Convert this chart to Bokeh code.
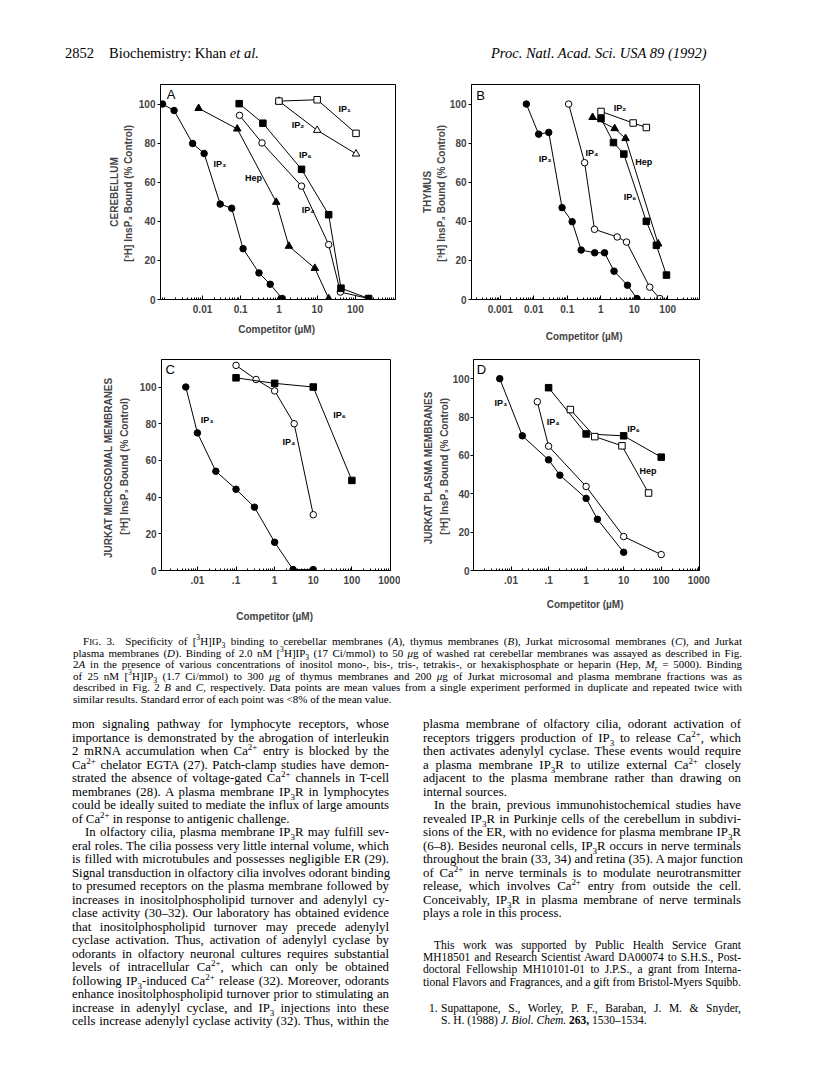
from bokeh.plotting import figure
from bokeh.models import Range1d, FixedTicker, CustomJSTickFormatter, Div
from bokeh.layouts import column, row
from bokeh.core.properties import value
from bokeh.embed import file_html
from bokeh.resources import INLINE

SANS = "Liberation Sans"
SERIF = "Liberation Serif"

# ---------------- data: panel A (cerebellum) ----------------
A_IP3_X = [0.0009, 0.0018, 0.0055, 0.011, 0.029, 0.058, 0.115, 0.30, 0.59, 1.22]
A_IP3_Y = [100, 96.7, 79.8, 74.7, 48.8, 46.7, 26, 13.6, 7.8, 0.5]
A_HEP_X = [0.0079, 0.081, 0.85, 1.82, 8.7, 20]
A_HEP_Y = [97.8, 87.3, 49.8, 27.3, 16, 0.5]
A_IP4_X = [0.093, 0.36, 3.9, 20, 40.5, 222]
A_IP4_Y = [94.2, 80.1, 58, 28.1, 3.8, 0.5]
A_IP6_X = [0.091, 0.38, 3.9, 20, 42, 222]
A_IP6_Y = [100.2, 90.2, 66.6, 43.4, 5.8, 0.5]
A_IP2_X = [1.0, 10, 104]
A_IP2_Y = [101.5, 86.6, 74.5]
A_IP1_X = [1.0, 10, 104]
A_IP1_Y = [101.5, 102.2, 85]
A_LAB_T = ["IP\u2081", "IP\u2082", "IP\u2086", "IP\u2083", "Hep", "IP\u2084"]
A_LAB_X = [36, 2.16, 3.37, 0.0195, 0.13, 3.95]
A_LAB_Y = [97.6, 89.4, 73.7, 69.5, 62.4, 45.9]
A_TICKS = [0.01, 0.1, 1, 10, 100]
A_TICK_LABELS = ["0.01", "0.1", "1", "10", "100"]

# ---------------- data: panel B (thymus) ----------------
B_IP3_X = [0.006, 0.014, 0.028, 0.070, 0.14, 0.26, 0.66, 1.3, 2.5, 6.3, 12.1]
B_IP3_Y = [100, 84.6, 85.5, 47, 39.8, 25.3, 23.9, 23.9, 14.5, 7.3, 0.5]
B_IP4_X = [0.11, 0.33, 0.65, 3.1, 5.9, 29, 58]
B_IP4_Y = [100, 70, 35.9, 32, 29.4, 6.3, 0.5]
B_IP2_X = [1.02, 9.3, 23]
B_IP2_Y = [96.2, 90.3, 88]
B_HEP_X = [0.57, 2.6, 5.5, 52]
B_HEP_Y = [93.2, 87.5, 82.4, 28.5]
B_IP6_X = [1.02, 2.4, 4.9, 23, 46, 92]
B_IP6_Y = [92.6, 80.3, 74.4, 40, 27.7, 12.5]
B_LAB_T = ["IP\u2082", "IP\u2083", "IP\u2084", "Hep", "IP\u2086"]
B_LAB_X = [2.44, 0.0141, 0.348, 10.8, 4.86]
B_LAB_Y = [98, 71.8, 75.2, 70.4, 52.5]
B_TICKS = [0.001, 0.01, 0.1, 1, 10, 100]
B_TICK_LABELS = ["0.001", "0.01", "0.1", "1", "10", "100"]

# ---------------- data: panel C (Jurkat microsomal) ----------------
C_IP3_X = [0.005, 0.01, 0.03, 0.1, 0.3, 1, 3, 10]
C_IP3_Y = [100, 75, 54.1, 44.3, 34.5, 15.4, 0.5, 0.5]
C_IP4_X = [0.1, 0.33, 1, 3.2, 10]
C_IP4_Y = [111.8, 104.1, 97.9, 80, 30.4]
C_IP6_X = [0.1, 1, 10, 100]
C_IP6_Y = [105, 102, 100, 49.1]
C_LAB_T = ["IP\u2083", "IP\u2086", "IP\u2084"]
C_LAB_X = [0.0122, 33, 1.59]
C_LAB_Y = [81.8, 84.5, 70.2]
C_TICKS = [0.01, 0.1, 1, 10, 100, 1000]
C_TICK_LABELS = [".01", ".1", "1", "10", "100", "1000"]

# ---------------- data: panel D (Jurkat plasma) ----------------
D_IP3_X = [0.005, 0.02, 0.1, 0.2, 1, 2, 10]
D_IP3_Y = [100, 70.2, 57.7, 49.7, 37.6, 26.7, 9.5]
D_IP4_X = [0.05, 0.1, 1, 10, 100]
D_IP4_Y = [88, 64.8, 43.8, 17.7, 8.3]
D_IP6_X = [0.1, 1, 10, 100]
D_IP6_Y = [95.3, 71.2, 70.2, 59.1]
D_HEP_X = [0.38, 1.7, 9, 46]
D_HEP_Y = [83.9, 69.8, 65, 40.4]
D_LAB_T = ["IP\u2083", "IP\u2084", "IP\u2086", "Hep"]
D_LAB_X = [0.0036, 0.089, 12.4, 26.3]
D_LAB_Y = [87.5, 77.5, 73.7, 52]
D_TICKS = [0.01, 0.1, 1, 10, 100, 1000]
D_TICK_LABELS = [".01", ".1", "1", "10", "100", "1000"]

Y_TICKS = [0, 20, 40, 60, 80, 100]
Y_SUB = "[\u00b3H] InsP\u2083  Bound (% Control)"


def make_panel(width, height, borders, xexp, ytop, ticks, tick_labels, ylabel,
               letter, letter_xy, x_standoff, y_standoff, y_lh, ylab_standoff=2):
    bl, br, bt, bb = borders
    p = figure(width=width, height=height, x_axis_type="log",
               x_range=Range1d(10 ** xexp[0], 10 ** xexp[1]),
               y_range=Range1d(0, ytop),
               output_backend="svg", toolbar_location=None,
               min_border_left=bl, min_border_right=br,
               min_border_top=bt, min_border_bottom=bb)
    p.xgrid.visible = False
    p.ygrid.visible = False
    p.outline_line_color = "black"
    p.outline_line_width = 1
    p.outline_line_alpha = 1
    p.background_fill_color = "white"
    p.border_fill_color = "white"

    xa = p.xaxis[0]
    minor = []
    for d in range(-5, 4):
        for k in range(1, 10):
            v = k * 10.0 ** d
            if k == 1 and any(abs(v / t - 1) < 1e-9 for t in ticks):
                continue
            minor.append(v)
    xa.ticker = FixedTicker(ticks=ticks, minor_ticks=minor)
    xa.formatter = CustomJSTickFormatter(args=dict(tvals=ticks, tlabels=tick_labels), code="""
        for (let i = 0; i < tvals.length; i++) {
            if (Math.abs(Math.log10(tvals[i]) - Math.log10(tick)) < 1e-6) return tlabels[i];
        }
        return "";
    """)
    xa.major_tick_in = 4
    xa.major_tick_out = 0
    xa.minor_tick_in = 2
    xa.minor_tick_out = 0
    xa.major_label_standoff = 5
    xa.major_label_text_font = SANS
    xa.major_label_text_font_style = "bold"
    xa.major_label_text_font_size = "10px"
    xa.axis_label = "Competitor  (\u00b5M)"
    xa.axis_label_text_font = SANS
    xa.axis_label_text_font_style = "bold"
    xa.axis_label_text_font_size = "10px"
    xa.axis_label_standoff = x_standoff
    xa.axis_line_color = "black"

    ya = p.yaxis[0]
    ya.ticker = FixedTicker(ticks=Y_TICKS)
    ya.major_tick_in = 0
    ya.major_tick_out = 3
    ya.minor_tick_in = 0
    ya.minor_tick_out = 0
    ya.major_label_standoff = ylab_standoff
    ya.major_label_text_font = SANS
    ya.major_label_text_font_style = "bold"
    ya.major_label_text_font_size = "10px"
    ya.axis_label = ylabel
    ya.axis_label_text_font = SANS
    ya.axis_label_text_font_style = "bold"
    ya.axis_label_text_font_size = "10px"
    ya.axis_label_text_line_height = y_lh
    ya.axis_label_standoff = y_standoff
    ya.axis_line_color = "black"

    p.text(x=[letter_xy[0]], y=[letter_xy[1]], text=[letter],
           text_font=value(SANS), text_font_size="13px",
           text_align="left", text_baseline="middle", text_color="black")
    return p


def series(p, xs, ys, marker, filled):
    size = 7.5 if marker == "triangle" else 6.5
    p.line(xs, ys, line_color="black", line_width=1)
    p.scatter(xs, ys, marker=marker, size=size, line_color="black", line_width=1,
              fill_color="black" if filled else "white")


def labels(p, lx, ly, lt):
    p.text(x=lx, y=ly, text=lt, text_font=value(SANS), text_font_style="bold",
           text_font_size="9px", text_align="left", text_baseline="middle",
           text_color="black")


pA = make_panel(400, 277, (160, 5, 12, 43), (-3.1, 3.05), 110, A_TICKS, A_TICK_LABELS,
                "CEREBELLUM\n" + Y_SUB, "A", (0.00115, 105), 8, 2, 1.25)
series(pA, A_IP3_X, A_IP3_Y, "circle", True)
series(pA, A_HEP_X, A_HEP_Y, "triangle", True)
series(pA, A_IP4_X, A_IP4_Y, "circle", False)
series(pA, A_IP6_X, A_IP6_Y, "square", True)
series(pA, A_IP2_X, A_IP2_Y, "triangle", False)
series(pA, A_IP1_X, A_IP1_Y, "square", False)
labels(pA, A_LAB_X, A_LAB_Y, A_LAB_T)

pB = make_panel(400, 277, (71, 101, 14, 48), (-3.86, 2.95), 110, B_TICKS, B_TICK_LABELS,
                "THYMUS\n" + Y_SUB, "B", (0.00019, 104.6), 15, 0, 1.25)
series(pB, B_IP3_X, B_IP3_Y, "circle", True)
series(pB, B_IP4_X, B_IP4_Y, "circle", False)
series(pB, B_IP2_X, B_IP2_Y, "square", False)
series(pB, B_HEP_X, B_HEP_Y, "triangle", True)
series(pB, B_IP6_X, B_IP6_Y, "square", True)
labels(pB, B_LAB_X, B_LAB_Y, B_LAB_T)

pC = make_panel(400, 280, (161, 10, 8, 57), (-2.93, 3.0), 115, C_TICKS, C_TICK_LABELS,
                "JURKAT  MICROSOMAL  MEMBRANES\n" + Y_SUB, "C", (0.00149, 109.8), 24, 7, 1.45)
series(pC, C_IP3_X, C_IP3_Y, "circle", True)
series(pC, C_IP4_X, C_IP4_Y, "circle", False)
series(pC, C_IP6_X, C_IP6_Y, "square", True)
labels(pC, C_LAB_X, C_LAB_Y, C_LAB_T)

pD = make_panel(400, 280, (73, 101, 12, 57), (-3.0, 3.02), 110, D_TICKS, D_TICK_LABELS,
                "JURKAT  PLASMA  MEMBRANES\n" + Y_SUB, "D", (0.00122, 104.9), 12, 0, 1.45, 1)
series(pD, D_IP3_X, D_IP3_Y, "circle", True)
series(pD, D_IP4_X, D_IP4_Y, "circle", False)
series(pD, D_IP6_X, D_IP6_Y, "square", True)
series(pD, D_HEP_X, D_HEP_Y, "square", False)
labels(pD, D_LAB_X, D_LAB_Y, D_LAB_T)

# ---------------- page text ----------------
STYLE = "<style>sup,sub{font-size:70%;line-height:0;} .l{white-space:nowrap;} .j{text-align:justify;text-align-last:justify;}</style>"

header = Div(width=800, height=60, text=(
    STYLE +
    f'<div style="position:relative;width:800px;height:60px;font-family:\'{SERIF}\';font-size:14.5px;color:#000;">'
    '<span style="position:absolute;left:60px;top:38px;">2852</span>'
    '<span style="position:absolute;left:104px;top:38px;">Biochemistry: Khan <i>et al.</i></span>'
    '<span style="position:absolute;left:486px;top:38px;"><i>Proc. Natl. Acad. Sci. USA 89 (1992)</i></span>'
    '</div>'))

SUP3H = "[<sup>3</sup>H]"
IP3 = "IP<sub>3</sub>"
CA = "Ca<sup>2+</sup>"

CAPTION = [
    ("j", 10, f'F<span style="font-size:80%">IG</span>. 3.&nbsp; Specificity of {SUP3H}{IP3} binding to cerebellar membranes (<i>A</i>), thymus membranes (<i>B</i>), Jurkat microsomal membranes (<i>C</i>), and Jurkat'),
    ("j", 0, f'plasma membranes (<i>D</i>). Binding of 2.0 nM {SUP3H}{IP3} (17 Ci/mmol) to 50 <i>\u03bc</i>g of washed rat cerebellar membranes was assayed as described in Fig.'),
    ("j", 0, '2<i>A</i> in the presence of various concentrations of inositol mono-, bis-, tris-, tetrakis-, or hexakisphosphate or heparin (Hep, <i>M</i><sub>r</sub> = 5000). Binding'),
    ("j", 0, f'of 25 nM {SUP3H}{IP3} (1.7 Ci/mmol) to 300 <i>\u03bc</i>g of thymus membranes and 200 <i>\u03bc</i>g of Jurkat microsomal and plasma membrane fractions was as'),
    ("j", 0, 'described in Fig. 2 <i>B</i> and <i>C</i>, respectively. Data points are mean values from a single experiment performed in duplicate and repeated twice with'),
    ("", 0, 'similar results. Standard error of each point was &lt;8% of the mean value.'),
]

LEFT_COL = [
    ("j", 0, 'mon signaling pathway for lymphocyte receptors, whose'),
    ("j", 0, 'importance is demonstrated by the abrogation of interleukin'),
    ("j", 0, f'2 mRNA accumulation when {CA} entry is blocked by the'),
    ("j", 0, f'{CA} chelator EGTA (27). Patch-clamp studies have demon-'),
    ("j", 0, f'strated the absence of voltage-gated {CA} channels in T-cell'),
    ("j", 0, f'membranes (28). A plasma membrane {IP3}R in lymphocytes'),
    ("j", 0, 'could be ideally suited to mediate the influx of large amounts'),
    ("", 0, f'of {CA} in response to antigenic challenge.'),
    ("j", 13, f'In olfactory cilia, plasma membrane {IP3}R may fulfill sev-'),
    ("j", 0, 'eral roles. The cilia possess very little internal volume, which'),
    ("j", 0, 'is filled with microtubules and possesses negligible ER (29).'),
    ("j", 0, 'Signal transduction in olfactory cilia involves odorant binding'),
    ("j", 0, 'to presumed receptors on the plasma membrane followed by'),
    ("j", 0, 'increases in inositolphospholipid turnover and adenylyl cy-'),
    ("j", 0, 'clase activity (30\u201332). Our laboratory has obtained evidence'),
    ("j", 0, 'that inositolphospholipid turnover may precede adenylyl'),
    ("j", 0, 'cyclase activation. Thus, activation of adenylyl cyclase by'),
    ("j", 0, 'odorants in olfactory neuronal cultures requires substantial'),
    ("j", 0, f'levels of intracellular {CA}, which can only be obtained'),
    ("j", 0, f'following {IP3}-induced {CA} release (32). Moreover, odorants'),
    ("j", 0, 'enhance inositolphospholipid turnover prior to stimulating an'),
    ("j", 0, f'increase in adenylyl cyclase, and {IP3} injections into these'),
    ("j", 0, 'cells increase adenylyl cyclase activity (32). Thus, within the'),
]

RIGHT_COL = [
    ("j", 0, 'plasma membrane of olfactory cilia, odorant activation of'),
    ("j", 0, f'receptors triggers production of {IP3} to release {CA}, which'),
    ("j", 0, 'then activates adenylyl cyclase. These events would require'),
    ("j", 0, f'a plasma membrane {IP3}R to utilize external {CA} closely'),
    ("j", 0, 'adjacent to the plasma membrane rather than drawing on'),
    ("", 0, 'internal sources.'),
    ("j", 11, 'In the brain, previous immunohistochemical studies have'),
    ("j", 0, f'revealed {IP3}R in Purkinje cells of the cerebellum in subdivi-'),
    ("j", 0, f'sions of the ER, with no evidence for plasma membrane {IP3}R'),
    ("j", 0, f'(6\u20138). Besides neuronal cells, {IP3}R occurs in nerve terminals'),
    ("j", 0, 'throughout the brain (33, 34) and retina (35). A major function'),
    ("j", 0, f'of {CA} in nerve terminals is to modulate neurotransmitter'),
    ("j", 0, f'release, which involves {CA} entry from outside the cell.'),
    ("j", 0, f'Conceivably, {IP3}R in plasma membrane of nerve terminals'),
    ("", 0, 'plays a role in this process.'),
]

ACK = [
    ("j", 11, 'This work was supported by Public Health Service Grant'),
    ("j", 0, 'MH18501 and Research Scientist Award DA00074 to S.H.S., Post-'),
    ("j", 0, 'doctoral Fellowship MH10101-01 to J.P.S., a grant from Interna-'),
    ("j", 0, 'tional Flavors and Fragrances, and a gift from Bristol-Myers Squibb.'),
]

REFS = [
    ("j", 18, 'Supattapone, S., Worley, P. F., Baraban, J. M. &amp; Snyder,'),
    ("", 18, 'S. H. (1988) <i>J. Biol. Chem.</i> <b>263,</b> 1530\u20131534.'),
]


def block(lines, left, top, width, fs, lh):
    out = [f'<div style="position:absolute;left:{left}px;top:{top}px;width:{width}px;'
           f'font-size:{fs}px;line-height:{lh}px;">']
    for cls, indent, html in lines:
        pad = f"padding-left:{indent}px;" if indent else ""
        out.append(f'<div class="l {cls}" style="height:{lh}px;{pad}">{html}</div>')
    out.append('</div>')
    return "".join(out)


text_html = (
    STYLE +
    f'<div style="position:relative;width:800px;height:445px;font-family:\'{SERIF}\';color:#000;">'
    + block(CAPTION, 68, 4.25, 669, 11, 11.5)
    + block(LEFT_COL, 67, 86.25, 317, 12.8, 13.5)
    + block(RIGHT_COL, 418, 86.25, 318, 12.8, 13.5)
    + block(ACK, 418, 306.85, 318, 11.5, 12.3)
    + '<div style="position:absolute;left:424px;top:369.85px;font-size:11.5px;line-height:12.3px;">1.</div>'
    + block(REFS, 418, 369.85, 318, 11.5, 12.3)
    + '</div>')

text_div = Div(width=800, height=445, text=text_html)

layout = column(header, row(pA, pB), row(pC, pD), text_div)

with open("out.html", "w") as f:
    f.write(file_html(layout, INLINE))
